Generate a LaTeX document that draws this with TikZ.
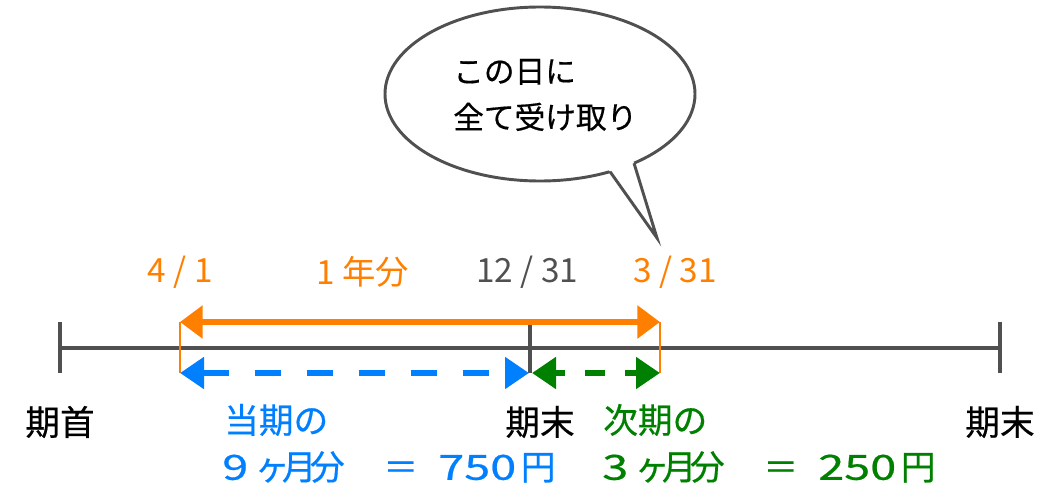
\documentclass[tikz,border=0pt]{standalone}
\usepackage{graphicx}
\usepackage{fontspec}
\setmainfont{Noto Sans CJK JP}
\newfontfamily\jpbold[FakeBold=0.5]{Noto Sans CJK JP}
\usetikzlibrary{arrows.meta,shapes.geometric,calc}
\definecolor{cOrange}{HTML}{FF7F00}
\definecolor{cBlue}{HTML}{0080FF}
\definecolor{cGreen}{HTML}{008000}
\definecolor{cGray}{HTML}{505050}
\newcommand\widedig[1]{\scalebox{1.35}[1]{#1}}
\newcommand\zb[1]{\makebox[0pt]{#1}}
\newcommand\amtline[2]{\zb{\widedig{#1}}\kern27.75pt\zb{ヶ}\kern20.25pt\zb{月}\kern21pt\zb{分}\kern55.1pt\zb{＝}\kern57.4pt\zb{\widedig{#2}}\kern45.75pt\zb{円}}
\tikzset{
  axisline/.style={cGray, line width=3pt},
  marker/.style={cOrange, line width=2.2pt},
  bigarrow/.style={cOrange, line width=5.2pt, {Triangle[length=17pt,width=24pt]}-{Triangle[length=17pt,width=24pt]}},
  dasharrow/.style={line width=5.2pt, {Triangle[length=18pt,width=23pt]}-{Triangle[length=18pt,width=23pt]}},
  lbl/.style={inner sep=0pt, font=\fontsize{25}{30}\selectfont},
  botlbl/.style={inner sep=0pt, font=\jpbold\fontsize{26}{30}\selectfont},
  sublbl/.style={inner sep=0pt, font=\jpbold\fontsize{26}{30}\selectfont, anchor=west},
  bubbleline/.style={draw=cGray, line width=2.2pt},
}
\begin{document}
\begin{tikzpicture}[x=0.75pt,y=-0.75pt]
\useasboundingbox (0,0) rectangle (1062,492);
% points
\coordinate (L) at (60,348);
\coordinate (M) at (530,348);
\coordinate (R) at (1000,348);
\coordinate (Lt) at (60,322); \coordinate (Lb) at (60,373);
\coordinate (Mt) at (530,322); \coordinate (Mb) at (530,373);
\coordinate (Rt) at (1000,322); \coordinate (Rb) at (1000,373);
\coordinate (At) at (180,322); \coordinate (Ab) at (180,373);
\coordinate (Bt) at (660,322); \coordinate (Bb) at (660,373);
\coordinate (Bm) at (529,373); \coordinate (Gm) at (532,373);
% timeline
\draw[axisline] (L) -- (R);
\draw[axisline] (Lt) -- (Lb);
\draw[axisline] (Mt) -- (Mb);
\draw[axisline] (Rt) -- (Rb);
% orange markers
\draw[marker] (At) -- (Ab);
\draw[marker] (Bt) -- (Bb);
% arrows
\draw[bigarrow] (At) -- (Bt);
\draw[dasharrow, cBlue, dash pattern=on 19.5pt off 19.5pt] (Ab) -- (Bm);
\draw[dasharrow, cGreen, dash pattern=on 15pt off 15pt, dash phase=7.5pt] (Gm) -- (Bb);
% top labels
\node[lbl, text=cOrange] (d41) at (180,272) {4 / 1};
\node[lbl, text=cOrange] (yr) at (363,272) {1 年分};
\node[lbl, text=cGray] (d1231) at (527,272) {12 / 31};
\node[lbl, text=cOrange] (d331) at (675,272) {3 / 31};
% bottom labels
\node[botlbl] (kishu) at (60,422) {期首};
\node[botlbl] (kimatsu1) at (540,422) {期末};
\node[botlbl] (kimatsu2) at (1000,422) {期末};
\node[sublbl, text=cBlue] (toki) at (224,420) {当期の};
\node[sublbl, text=cBlue] (toki2) at (235,467) {\amtline{9}{750}};
\node[sublbl, text=cGreen] (jiki) at (603,420) {次期の};
\node[sublbl, text=cGreen] (jiki2) at (615,467) {\amtline{3}{250}};
% callout
\node[ellipse, bubbleline, fill=white, inner sep=0pt,
      minimum width=232.5pt, minimum height=130.5pt] (bubble) at (540,94) {};
\coordinate (tip) at (657,238);
\coordinate (b1) at (610,171.6);
\coordinate (b2) at (634,163.2);
\coordinate (b1i) at ($(tip)!1.12!(b1)$);
\coordinate (b2i) at ($(tip)!1.12!(b2)$);
\fill[white] (b1i) -- (tip) -- (b2i) -- cycle;
\draw[bubbleline, line join=miter] (b1) -- (tip) -- (b2);
\node[inner sep=0pt, anchor=west, align=left, font=\jpbold\fontsize{23}{34.5}\selectfont] (msg) at (453,95) {この日に\\全て受け取り};
\end{tikzpicture}
\end{document}
